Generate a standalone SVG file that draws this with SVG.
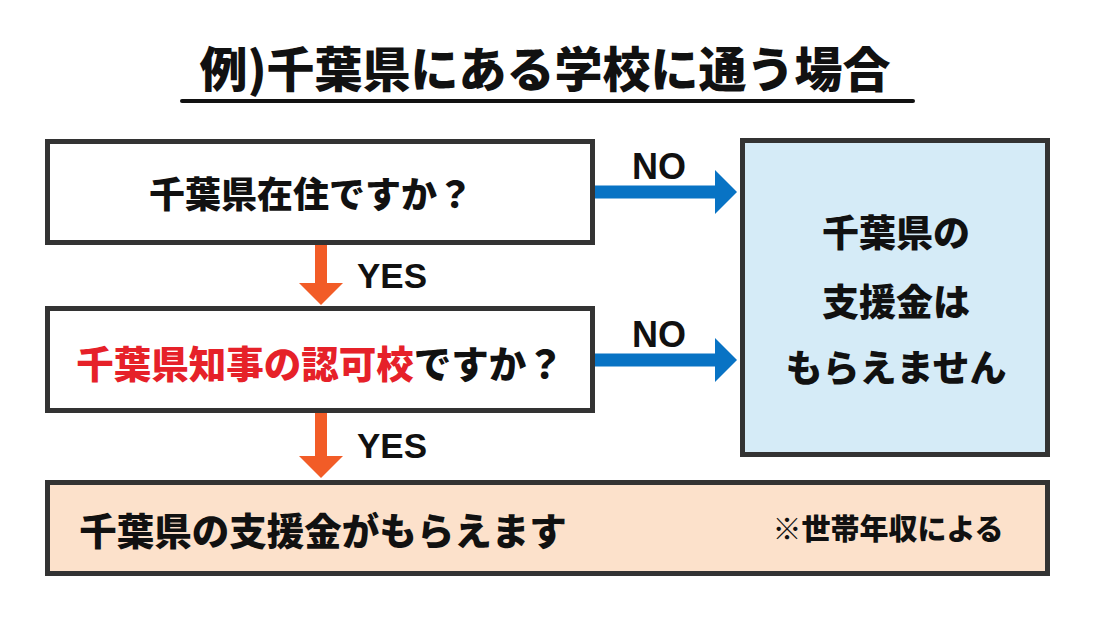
<svg xmlns="http://www.w3.org/2000/svg" width="1096" height="617" viewBox="0 0 1096 617">
<style>
.box{stroke:#333;stroke-width:5}
.jp{font-family:"Noto Sans CJK JP","Noto Sans CJK SC",sans-serif;font-weight:900;fill:#111}
.lat{font-family:"Liberation Sans",Arial,sans-serif;font-weight:700;fill:#111}
.blue{fill:#0873C4}
.orange{fill:#F25C27}
</style>
<rect width="1096" height="617" fill="#fff"/>
<g id="title">
<text class="jp" x="545" y="66" font-size="48" text-anchor="middle" dominant-baseline="central">例)千葉県にある学校に通う場合</text>
<line x1="182" y1="101" x2="913" y2="101" stroke="#111" stroke-width="4" stroke-linecap="round"/>
</g>
<g id="q1">
<rect class="box" x="47.5" y="141.5" width="545" height="101" fill="#fff"/>
<text class="jp" x="311" y="192" font-size="36" text-anchor="middle" dominant-baseline="central">千葉県在住ですか？</text>
</g>
<g id="q2">
<rect class="box" x="47.5" y="308.5" width="545" height="102" fill="#fff"/>
<text class="jp" x="320" y="361" font-size="37.5" text-anchor="middle" dominant-baseline="central"><tspan fill="#E62129">千葉県知事の認可校</tspan>ですか？</text>
</g>
<g id="no-result">
<rect class="box" x="742.5" y="140.5" width="305" height="314" fill="#D5EBF7"/>
<text class="jp" x="896" y="231" font-size="37" text-anchor="middle" dominant-baseline="central">千葉県の</text>
<text class="jp" x="896" y="300" font-size="37" text-anchor="middle" dominant-baseline="central">支援金は</text>
<text class="jp" x="896" y="366" font-size="37" text-anchor="middle" dominant-baseline="central">もらえません</text>
</g>
<g id="yes-result">
<rect class="box" x="47.5" y="482.5" width="1000" height="91" fill="#FCE1CB"/>
<text class="jp" x="323" y="528" font-size="37.5" text-anchor="middle" dominant-baseline="central">千葉県の支援金がもらえます</text>
<text class="jp" x="888" y="527" font-size="29" text-anchor="middle" dominant-baseline="central">※世帯年収による</text>
</g>
<g id="connectors">
<polygon class="blue" points="595,185.5 715,185.5 715,170 737,192 715,214 715,198.5 595,198.5"/>
<text class="lat" x="659" y="179" font-size="36" text-anchor="middle">NO</text>
<polygon class="blue" points="595,353.5 715,353.5 715,338 737,360 715,382 715,366.5 595,366.5"/>
<text class="lat" x="659" y="347" font-size="36" text-anchor="middle">NO</text>
<polygon class="orange" points="315,245 327,245 327,283 343,283 321,305 299,283 315,283"/>
<text class="lat" x="392" y="288" font-size="35" text-anchor="middle">YES</text>
<polygon class="orange" points="315,413 327,413 327,456 343,456 321,478 299,456 315,456"/>
<text class="lat" x="392" y="458" font-size="35" text-anchor="middle">YES</text>
</g>
</svg>
